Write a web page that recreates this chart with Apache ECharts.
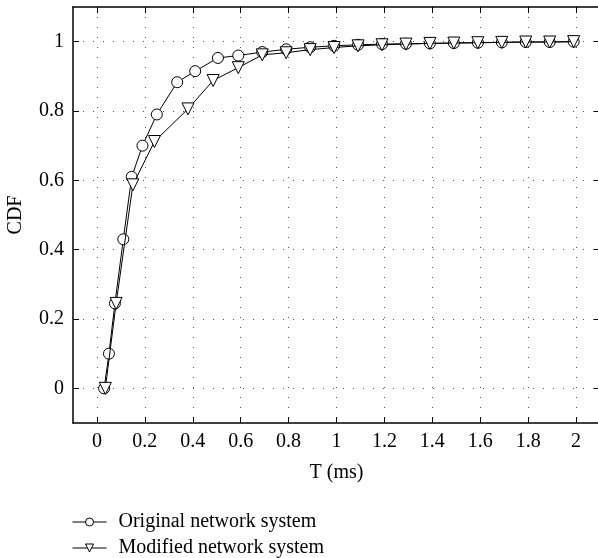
<!DOCTYPE html>
<html>
<head>
<meta charset="utf-8">
<script src="https://cdn.jsdelivr.net/npm/echarts@6/dist/echarts.min.js"></script>
<style>
  html, body { margin: 0; padding: 0; background: #fff; }
  #chart { width: 598px; height: 558px; }
</style>
</head>
<body>
<div id="chart"></div>
<script>
// Données
const originalX = [0.03, 0.05, 0.075, 0.11, 0.145, 0.19, 0.25, 0.335, 0.41, 0.505, 0.59, 0.69, 0.79, 0.89, 0.99, 1.09, 1.19, 1.29, 1.39, 1.49, 1.59, 1.69, 1.79, 1.89, 1.99];
const originalY = [0, 0.1, 0.245, 0.43, 0.61, 0.70, 0.79, 0.883, 0.915, 0.953, 0.96, 0.97, 0.978, 0.984, 0.988, 0.991, 0.993, 0.994, 0.995, 0.996, 0.997, 0.998, 0.999, 0.999, 1.0];

const modifiedX = [0.035, 0.08, 0.15, 0.24, 0.38, 0.485, 0.59, 0.69, 0.79, 0.89, 0.99, 1.09, 1.19, 1.29, 1.39, 1.49, 1.59, 1.69, 1.79, 1.89, 1.99];
const modifiedY = [0, 0.245, 0.587, 0.712, 0.806, 0.888, 0.925, 0.962, 0.968, 0.977, 0.983, 0.988, 0.991, 0.993, 0.995, 0.996, 0.997, 0.998, 0.999, 0.999, 1.0];

const xTicks = [0, 0.2, 0.4, 0.6, 0.8, 1, 1.2, 1.4, 1.6, 1.8, 2];
const yTicks = [0, 0.2, 0.4, 0.6, 0.8, 1];

const seriesNames = ["Original network system", "Modified network system"];

const font = "Liberation Serif";

function pairs(xs, ys) {
  return xs.map((x, i) => [x, ys[i]]);
}

const chart = echarts.init(document.getElementById("chart"));

const axisLine = { show: true, onZero: false, lineStyle: { color: "#000", width: 1.5 } };
const tickIn = (vals) => ({
  show: true,
  inside: true,
  length: 6,
  customValues: vals,
  lineStyle: { color: "#000", width: 1 },
});
const grid = {
  show: true,
  lineStyle: { color: "#555", width: 1, type: [1, 9] },
};

chart.setOption({
  animation: false,
  backgroundColor: "#fff",
  grid: {
    left: 73, right: -2, top: 7, bottom: 135,
    containLabel: false,
    outerBoundsMode: "none",
  },
  legend: {
    left: 72,
    top: 512,
    height: 60,
    padding: 0,
    orient: "vertical",
    itemWidth: 34,
    itemHeight: 10,
    itemGap: 6,
    lineStyle: { width: 1 },
    itemStyle: { borderWidth: 1 },
    textStyle: { fontFamily: font, fontSize: 20, color: "#000", padding: [0, 0, 0, 7] },
    data: seriesNames,
  },
  xAxis: [
    {
      type: "value",
      min: -0.1,
      max: 2.1,
      name: "T (ms)",
      nameLocation: "middle",
      nameGap: 40,
      nameTextStyle: { fontFamily: font, fontSize: 20, color: "#000" },
      axisLine: axisLine,
      axisTick: tickIn(xTicks),
      axisLabel: {
        customValues: xTicks,
        fontFamily: font,
        fontSize: 20,
        color: "#000",
        margin: 9,
      },
      splitLine: grid,
    },
    {
      type: "value",
      position: "top",
      min: -0.1,
      max: 2.1,
      axisLine: axisLine,
      axisTick: tickIn(xTicks),
      axisLabel: { show: false },
      splitLine: { show: false },
    },
  ],
  yAxis: [
    {
      type: "value",
      min: -0.1,
      max: 1.1,
      name: "CDF",
      nameLocation: "middle",
      nameGap: 47,
      nameTextStyle: { fontFamily: font, fontSize: 20, color: "#000" },
      axisLine: axisLine,
      axisTick: tickIn(yTicks),
      axisLabel: {
        customValues: yTicks,
        fontFamily: font,
        fontSize: 20,
        color: "#000",
        margin: 9,
      },
      splitLine: grid,
    },
    {
      type: "value",
      position: "right",
      min: -0.1,
      max: 1.1,
      axisLine: axisLine,
      axisTick: tickIn(yTicks),
      axisLabel: { show: false },
      splitLine: { show: false },
    },
  ],
  series: [
    {
      name: seriesNames[0],
      type: "line",
      data: pairs(originalX, originalY),
      symbol: "circle",
      symbolSize: 11,
      lineStyle: { color: "#000", width: 1 },
      itemStyle: { color: "#fff", borderColor: "#000", borderWidth: 1 },
      emphasis: { disabled: true },
      z: 2,
    },
    {
      name: seriesNames[1],
      type: "line",
      data: pairs(modifiedX, modifiedY),
      symbol: "triangle",
      symbolRotate: 180,
      symbolSize: 12,
      lineStyle: { color: "#000", width: 1 },
      itemStyle: { color: "#fff", borderColor: "#000", borderWidth: 1 },
      emphasis: { disabled: true },
      z: 3,
    },
  ],
});
</script>
</body>
</html>
